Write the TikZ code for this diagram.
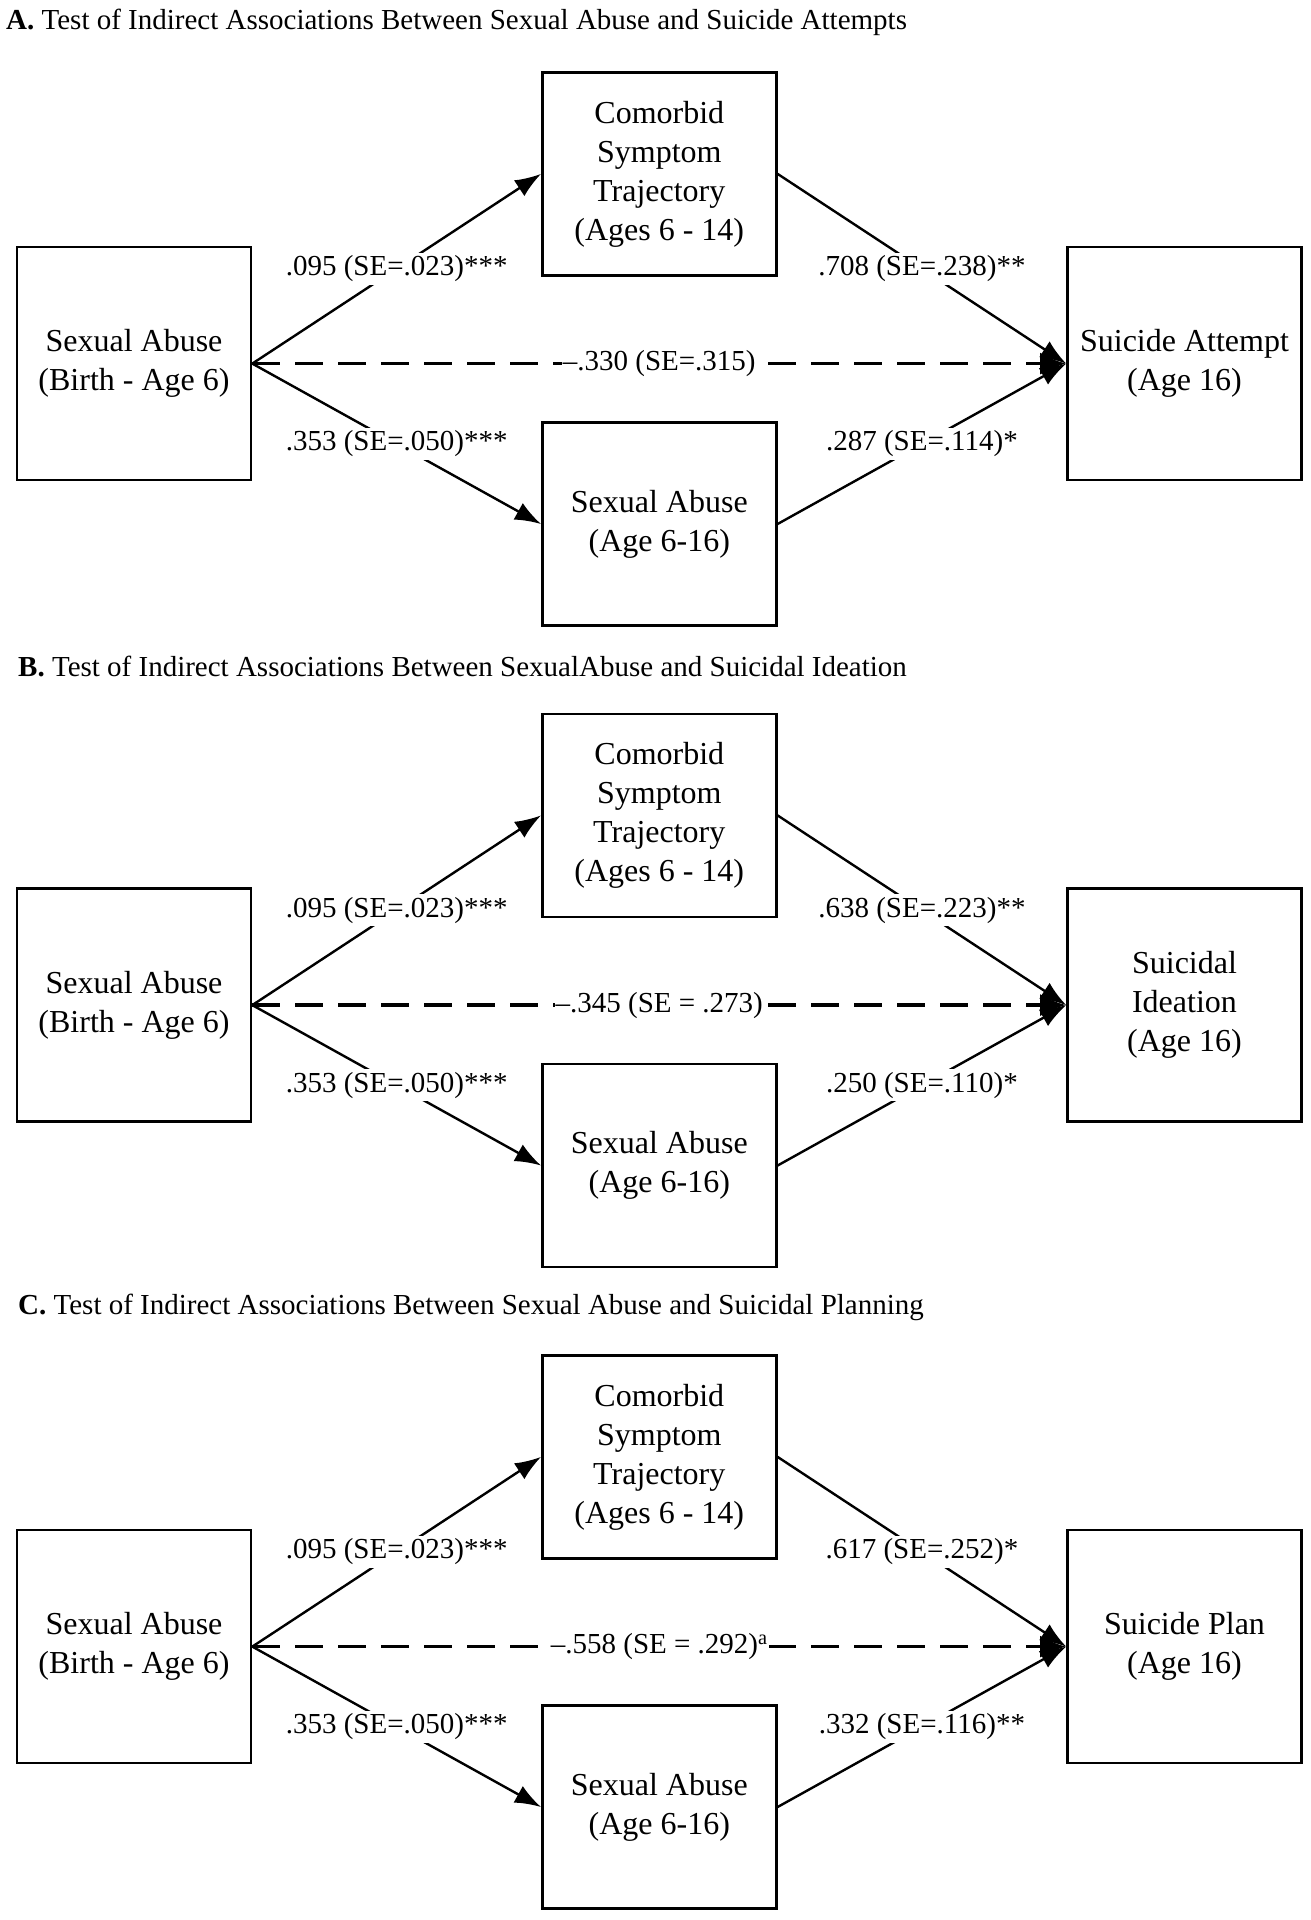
\documentclass[tikz,border=0pt]{standalone}
\usepackage{fontspec}
\setmainfont{Liberation Serif}
\usetikzlibrary{arrows.meta}
\tikzset{
  box/.style={draw, line width=2.6pt, minimum width=234pt, align=center,
    font=\fontsize{32}{39}\selectfont, inner sep=0pt},
  sidebox/.style={box, minimum height=233pt},
  midbox/.style={box, minimum height=203pt},
  arr/.style={line width=2.4pt, -{Latex[length=26pt,width=19pt]}},
  darr/.style={line width=3.4pt, dash pattern=on 28pt off 15pt, -{Latex[length=26pt,width=22pt]}},
  lab/.style={fill=white, inner sep=3pt, font=\fontsize{29}{34}\selectfont},
  ttl/.style={anchor=west, font=\fontsize{29}{34}\selectfont, inner sep=0pt},
}
\newcommand\mypanel[8]{%
  \begin{scope}[yshift=#2]
    \node[sidebox] (L#1) at (134,363.6) {Sexual Abuse\\(Birth - Age 6)};
    \node[midbox] (T#1) at (659.3,173.9) {Comorbid\\Symptom\\Trajectory\\(Ages 6 - 14)};
    \node[midbox] (B#1) at (659.3,524) {Sexual Abuse\\(Age 6-16)};
    \node[sidebox] (R#1) at (1184.5,363.6) {#3};
    \draw[arr] (L#1.east) -- node[lab]{#4} (T#1.west);
    \draw[arr] (L#1.east) -- node[lab]{#5} (B#1.west);
    \draw[arr] (T#1.east) -- node[lab]{#6} (R#1.west);
    \draw[arr] (B#1.east) -- node[lab]{#7} (R#1.west);
    \draw[darr] (L#1.east) -- node[lab, inner sep=1pt]{#8} (R#1.west);
  \end{scope}}
\begin{document}
\begin{tikzpicture}[x=1pt, y=-1pt]
  \fill[white] (0,0) rectangle (1310,1920);
  \useasboundingbox (0,0) rectangle (1310,1920);
  \node[ttl] (ttlA) at (6,22) {\textbf{A.} Test of Indirect Associations Between Sexual Abuse and Suicide Attempts};
  \node[ttl] (ttlB) at (18,666) {\textbf{B.} Test of Indirect Associations Between SexualAbuse and Suicidal Ideation};
  \node[ttl] (ttlC) at (18,1307.6) {\textbf{C.} Test of Indirect Associations Between Sexual Abuse and Suicidal Planning};
  \mypanel{A}{0pt}{Suicide Attempt\\(Age 16)}{.095 (SE=.023)***}{.353 (SE=.050)***}{.708 (SE=.238)**}{.287 (SE=.114)*}{--.330 (SE=.315)}
  \mypanel{B}{-641.5pt}{Suicidal\\Ideation\\(Age 16)}{.095 (SE=.023)***}{.353 (SE=.050)***}{.638 (SE=.223)**}{.250 (SE=.110)*}{--.345 (SE = .273)}
  \mypanel{C}{-1283pt}{Suicide Plan\\(Age 16)}{.095 (SE=.023)***}{.353 (SE=.050)***}{.617 (SE=.252)*}{.332 (SE=.116)**}{--.558 (SE = .292)\textsuperscript{a}}
\end{tikzpicture}
\end{document}
